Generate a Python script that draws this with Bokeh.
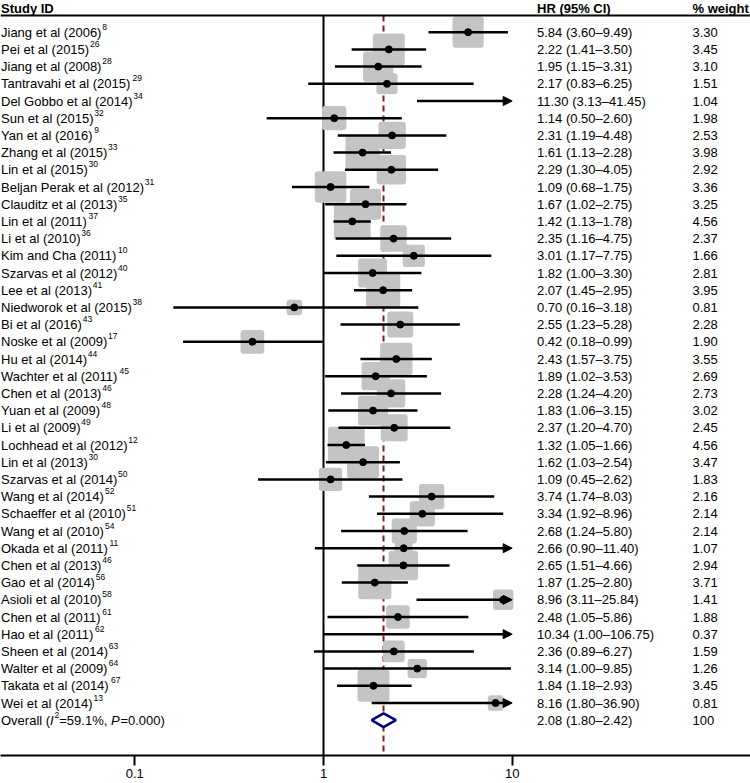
import numpy as np
from bokeh.plotting import figure
from bokeh.models import (Range1d, ColumnDataSource, Arrow, NormalHead, FixedTicker,
                          CustomJSTickFormatter, Span, Rect)
from bokeh.core.properties import value
from bokeh.embed import file_html
from bokeh.resources import INLINE

# ---------------- data ----------------
studies = ["Jiang et al (2006)", "Pei et al (2015)", "Jiang et al (2008)", "Tantravahi et al (2015)",
           "Del Gobbo et al (2014)", "Sun et al (2015)", "Yan et al (2016)", "Zhang et al (2015)",
           "Lin et al (2015)", "Beljan Perak et al (2012)", "Clauditz et al (2013)", "Lin et al (2011)",
           "Li et al (2010)", "Kim and Cha (2011)", "Szarvas et al (2012)", "Lee et al (2013)",
           "Niedworok et al (2015)", "Bi et al (2016)", "Noske et al (2009)", "Hu et al (2014)",
           "Wachter et al (2011)", "Chen et al (2013)", "Yuan et al (2009)", "Li et al (2009)",
           "Lochhead et al (2012)", "Lin et al (2013)", "Szarvas et al (2014)", "Wang et al (2014)",
           "Schaeffer et al (2010)", "Wang et al (2010)", "Okada et al (2011)", "Chen et al (2013)",
           "Gao et al (2014)", "Asioli et al (2010)", "Chen et al (2011)", "Hao et al (2011)",
           "Sheen et al (2014)", "Walter et al (2009)", "Takata et al (2014)", "Wei et al (2014)"]
refs = ["8", "26", "28", "29", "34", "32", "9", "33", "30", "31", "35", "37", "36", "10", "40", "41",
        "38", "43", "17", "44", "45", "46", "48", "49", "12", "30", "50", "52", "51", "54", "11", "46",
        "56", "58", "61", "62", "63", "64", "67", "13"]
hr = [5.84, 2.22, 1.95, 2.17, 11.30, 1.14, 2.31, 1.61, 2.29, 1.09, 1.67, 1.42, 2.35, 3.01, 1.82, 2.07,
      0.70, 2.55, 0.42, 2.43, 1.89, 2.28, 1.83, 2.37, 1.32, 1.62, 1.09, 3.74, 3.34, 2.68, 2.66, 2.65,
      1.87, 8.96, 2.48, 10.34, 2.36, 3.14, 1.84, 8.16]
lo = [3.60, 1.41, 1.15, 0.83, 3.13, 0.50, 1.19, 1.13, 1.30, 0.68, 1.02, 1.13, 1.16, 1.17, 1.00, 1.45,
      0.16, 1.23, 0.18, 1.57, 1.02, 1.24, 1.06, 1.20, 1.05, 1.03, 0.45, 1.74, 1.92, 1.24, 0.90, 1.51,
      1.25, 3.11, 1.05, 1.00, 0.89, 1.00, 1.18, 1.80]
hi = [9.49, 3.50, 3.31, 6.25, 41.45, 2.60, 4.48, 2.28, 4.05, 1.75, 2.75, 1.78, 4.75, 7.75, 3.30, 2.95,
      3.18, 5.28, 0.99, 3.75, 3.53, 4.20, 3.15, 4.70, 1.66, 2.54, 2.62, 8.03, 8.96, 5.80, 11.40, 4.66,
      2.80, 25.84, 5.86, 106.75, 6.27, 9.85, 2.93, 36.90]
weight = [3.30, 3.45, 3.10, 1.51, 1.04, 1.98, 2.53, 3.98, 2.92, 3.36, 3.25, 4.56, 2.37, 1.66, 2.81, 3.95,
          0.81, 2.28, 1.90, 3.55, 2.69, 2.73, 3.02, 2.45, 4.56, 3.47, 1.83, 2.16, 2.14, 2.14, 1.07, 2.94,
          3.71, 1.41, 1.88, 0.37, 1.59, 1.26, 3.45, 0.81]

overall_hr, overall_lo, overall_hi = 2.08, 1.80, 2.42
overall_weight = "100"
overall_i2 = "59.1%"
overall_p = "0.000"
null_value = 1.0
clip_hi = 10.0
tick_values = [0.1, 1, 10]
tick_labels = ["0.1", "1", "10"]
headers = ["Study ID", "HR (95% CI)", "% weight"]

# ---------------- layout ----------------
FONT = "Liberation Sans"
FS = 13
SUP_FS = 8.5
FW, FH = 750, 755
X1_PX, DEC_PX = 323.0, 188.7
x_start = 10 ** (-X1_PX / DEC_PX)
x_end = 10 ** ((FW - X1_PX) / DEC_PX)
ROW0, ROWH = 31.7, 17.2
y_top = -ROW0 / ROWH
y_bot = (FH - ROW0) / ROWH
hdr_y = (7.5 - ROW0) / ROWH
hline_y = (15.0 - ROW0) / ROWH
SUP_DY = 0.31
COL_STUDY, COL_HR, COL_W = 0.5, 536.5, 692.0
BOX_K = 17.2
GREY = "#C4C4C4"
RED = "#8B1A1A"
NAVY = "#000080"

ARIAL = {' ': 278, '(': 333, ')': 333, '%': 889, '=': 584, ',': 278, '.': 278, '\u2013': 556,
         'a': 556, 'b': 556, 'c': 500, 'd': 556, 'e': 556, 'f': 278, 'g': 556, 'h': 556, 'i': 222,
         'j': 222, 'k': 500, 'l': 222, 'm': 833, 'n': 556, 'o': 556, 'p': 556, 'q': 556, 'r': 333,
         's': 500, 't': 278, 'u': 556, 'v': 500, 'w': 722, 'x': 500, 'y': 500, 'z': 500,
         'A': 667, 'B': 667, 'C': 722, 'D': 722, 'E': 667, 'F': 611, 'G': 778, 'H': 722, 'I': 278,
         'J': 500, 'K': 667, 'L': 556, 'M': 833, 'N': 722, 'O': 778, 'P': 667, 'Q': 778, 'R': 722,
         'S': 667, 'T': 611, 'U': 722, 'V': 667, 'W': 944, 'X': 667, 'Y': 667, 'Z': 611}


def tw(s, size):
    return sum(ARIAL.get(c, 556) for c in s) * size / 1000.0


n = len(studies)
rows = np.arange(n, dtype=float)
overall_row = float(n)
hr_a, lo_a, hi_a, w_a = map(np.asarray, (hr, lo, hi, weight))

p = figure(frame_width=FW, frame_height=FH, x_axis_type="log",
           x_range=Range1d(x_start, x_end), y_range=Range1d(y_bot, y_top),
           output_backend="svg", toolbar_location=None, min_border=0,
           y_axis_location=None, outline_line_color=None,
           background_fill_color="white", border_fill_color="white")
p.xgrid.grid_line_color = None
p.ygrid.grid_line_color = None

ax = p.xaxis[0]
ax.ticker = FixedTicker(ticks=tick_values, minor_ticks=[])
ax.formatter = CustomJSTickFormatter(code="return String(tick)")
ax.major_label_overrides = dict(zip(tick_values, tick_labels))
ax.axis_line_width = 2
ax.axis_line_color = "black"
ax.major_tick_line_width = 2
ax.major_tick_line_color = "black"
ax.major_tick_out = 10
ax.major_tick_in = 0
ax.minor_tick_out = 0
ax.minor_tick_in = 0
ax.major_label_text_font = FONT
ax.major_label_text_font_size = f"{FS}px"
ax.major_label_text_color = "black"
ax.major_label_standoff = 3

# header line
p.add_layout(Span(location=hline_y, dimension="width", line_color="black", line_width=2))

# vertical reference lines
p.segment(x0=[null_value], y0=[hline_y], x1=[null_value], y1=[y_bot], line_color="black", line_width=2)
p.segment(x0=[overall_hr], y0=[hline_y], x1=[overall_hr], y1=[y_bot], line_color=RED,
          line_width=2, line_dash="6 4")

# boxes (only those within plotted limit)
vis = hr_a <= clip_hi
box_src = ColumnDataSource(dict(x=hr_a[vis], y=rows[vis], s=BOX_K * np.sqrt(w_a[vis])))
rkw = {"border_radius": 3} if "border_radius" in Rect.properties() else {}
p.rect(x="x", y="y", width="s", height="s", width_units="screen", height_units="screen",
       fill_color=GREY, line_color=None, source=box_src, **rkw)

# CI lines
inr = hi_a <= clip_hi
p.segment(x0=lo_a[inr], y0=rows[inr], x1=hi_a[inr], y1=rows[inr], line_color="black", line_width=2.5)
out = ~inr
arr_src = ColumnDataSource(dict(x0=lo_a[out], x1=np.full(out.sum(), clip_hi), y=rows[out]))
p.add_layout(Arrow(end=NormalHead(size=9, fill_color="black", line_color="black", line_width=1),
                   x_start="x0", y_start="y", x_end="x1", y_end="y", line_width=2.5,
                   line_color="black", source=arr_src))

p.scatter(x=hr_a[vis], y=rows[vis], size=7, marker="circle", fill_color="black", line_color="black")

# overall diamond
h = 0.40
p.patch(x=[overall_lo, overall_hr, overall_hi, overall_hr],
        y=[overall_row, overall_row - h, overall_row, overall_row + h],
        fill_color="white", line_color=NAVY, line_width=2.5)

# ---------------- texts ----------------
LEFT = x_start
txt_kw = dict(text_font=value(FONT), text_baseline="middle", text_align="left", text_color="black")

hr_txt = [f"{a:.2f} ({b:.2f}\u2013{c:.2f})" for a, b, c in zip(hr, lo, hi)]
w_txt = [f"{w:.2f}" for w in weight]

main = ColumnDataSource(dict(
    x=[LEFT] * (3 * n),
    y=list(rows) * 3,
    t=studies + hr_txt + w_txt,
    xo=[COL_STUDY] * n + [COL_HR] * n + [COL_W] * n))
p.text(x="x", y="y", text="t", x_offset="xo", source=main, text_font_size=value(f"{FS}px"), **txt_kw)

sup = ColumnDataSource(dict(
    x=[LEFT] * n, y=list(rows - SUP_DY), t=refs,
    xo=[COL_STUDY + tw(s, FS) + 0.8 for s in studies]))
p.text(x="x", y="y", text="t", x_offset="xo", source=sup, text_font_size=value(f"{SUP_FS}px"), **txt_kw)

# headers
p.text(x=[LEFT] * 3, y=[hdr_y] * 3, text=headers, x_offset=[COL_STUDY, COL_HR, COL_W],
       text_font_size=value(f"{FS}px"), text_font_style="bold", **txt_kw)

# overall row text
parts = [("Overall (", "normal", FS, 0.0), ("I", "italic", FS, 0.0), ("2", "normal", SUP_FS, SUP_DY),
         (f"={overall_i2}, ", "normal", FS, 0.0), ("P", "italic", FS, 0.0), (f"={overall_p})", "normal", FS, 0.0)]
xo = COL_STUDY
for s, style, size, dy in parts:
    p.text(x=[LEFT], y=[overall_row - dy], text=[s], x_offset=[xo], text_font_size=value(f"{size}px"),
           text_font_style=style, **txt_kw)
    xo += tw(s, size) + (0.8 if style == "italic" else 0.0)

p.text(x=[LEFT, LEFT], y=[overall_row, overall_row],
       text=[f"{overall_hr:.2f} ({overall_lo:.2f}\u2013{overall_hi:.2f})", overall_weight],
       x_offset=[COL_HR, COL_W], text_font_size=value(f"{FS}px"), **txt_kw)

open("out.html", "w").write(file_html(p, INLINE, title="Forest plot"))
